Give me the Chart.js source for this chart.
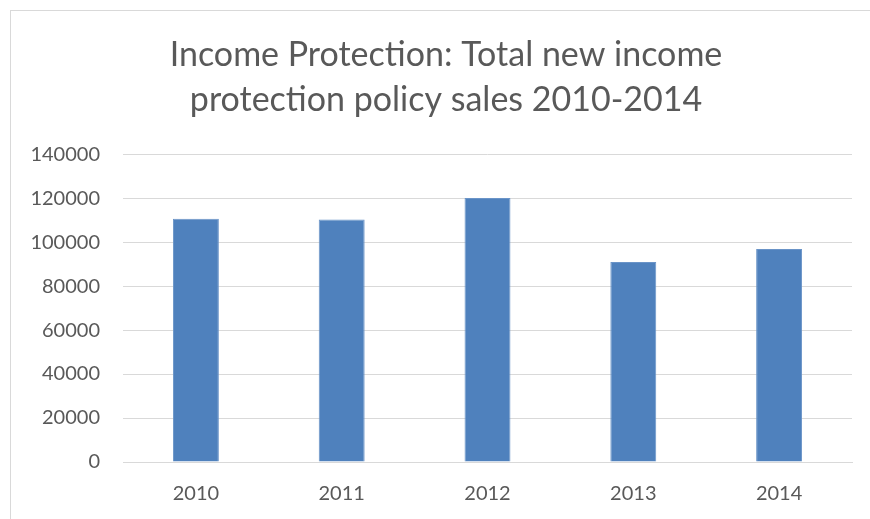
<!DOCTYPE html>
<html>
<head>
<meta charset="utf-8">
<script src="https://cdn.jsdelivr.net/npm/chart.js@4"></script>
<style>
html,body{margin:0;padding:0;background:#fff;width:870px;height:519px;overflow:hidden;}
#frame{position:absolute;left:10px;top:10px;width:900px;height:600px;border-left:1px solid #d9d9d9;border-top:1px solid #d9d9d9;}
#wrap{position:absolute;left:0;top:0;width:892px;height:519px;}
</style>
</head>
<body>
<div id="frame"></div>
<div id="wrap"><canvas id="c" width="892" height="519"></canvas></div>
<script>
const titleLines = ["Income Protection: Total new income", "protection policy sales 2010-2014"];
const years = ["2010", "2011", "2012", "2013", "2014"];
const sales = [110600, 110300, 120000, 90900, 96800];
const yTicks = [0, 20000, 40000, 60000, 80000, 100000, 120000, 140000];

const FONT = "Lato, 'Open Sans', sans-serif";
const TXT = "#595959";

new Chart(document.getElementById("c"), {
  type: "bar",
  data: {
    labels: years,
    datasets: [{
      label: "Sales",
      data: sales,
      backgroundColor: "#4F81BD",
      borderColor: "#6a94c8",
      borderWidth: 1,
      categoryPercentage: 1,
      barPercentage: 0.315
    }]
  },
  options: {
    responsive: false,
    animation: false,
    layout: { padding: 0 },
    plugins: {
      legend: { display: false },
      tooltip: { enabled: false },
      title: {
        display: true,
        text: titleLines,
        color: TXT,
        font: { family: FONT, size: 34, weight: "normal", lineHeight: 1.34 },
        padding: { top: 32, bottom: 31 }
      }
    },
    scales: {
      x: {
        grid: { display: false, drawTicks: false },
        border: { display: true, color: "#d9d9d9", width: 1 },
        ticks: { color: TXT, font: { family: FONT, size: 20 }, padding: 20 },
        afterFit: s => { s.height = 57; }
      },
      y: {
        min: 0,
        max: 140000,
        afterBuildTicks: s => { s.ticks = yTicks.map(v => ({ value: v })); },
        grid: { color: "#d9d9d9", lineWidth: 1, drawTicks: false },
        border: { display: false },
        ticks: { color: TXT, font: { family: FONT, size: 20 }, padding: 23, callback: v => String(v) },
        afterFit: s => { s.width = 123; }
      },
      yRight: {
        position: "right",
        min: 0,
        max: 1,
        grid: { display: false, drawTicks: false },
        border: { display: false },
        ticks: { display: false },
        afterFit: s => { s.width = 40; }
      }
    }
  }
});
</script>
</body>
</html>
